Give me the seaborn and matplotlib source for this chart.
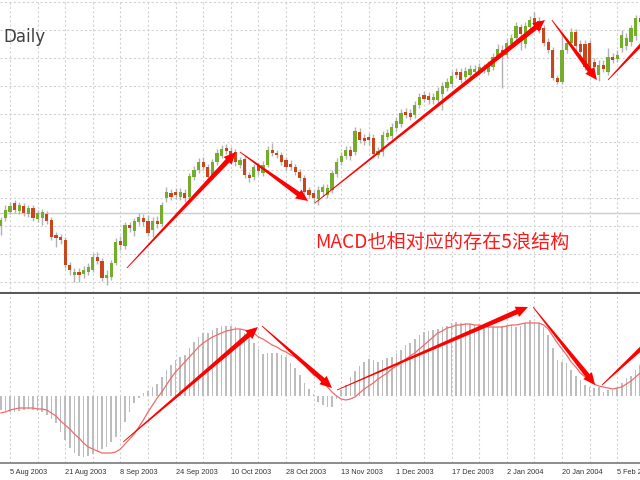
import numpy as np
import pandas as pd
import matplotlib
matplotlib.use("Agg")
import matplotlib.pyplot as plt
from matplotlib.patches import Polygon
import seaborn as sns

sns.set_style("white")
plt.rcParams["font.family"] = ["DejaVu Sans"]

# ---- daily bars, 1 Aug 2003 .. 6 Feb 2004 ----
dates = pd.bdate_range("2003-08-01", periods=140)

open_ = [1.1870, 1.1910, 1.1940, 1.1985, 1.1945, 1.1970, 1.1930, 1.1960, 1.1905, 1.1910, 1.1930, 1.1900,
         1.1825, 1.1815, 1.1800, 1.1675, 1.1625, 1.1640, 1.1630, 1.1640, 1.1650, 1.1715,
         1.1695, 1.1610, 1.1615, 1.1685, 1.1795, 1.1770, 1.1875, 1.1845, 1.1890, 1.1910,
         1.1895, 1.1850, 1.1895, 1.1880, 1.2010, 1.2035, 1.2040, 1.2015, 1.2035, 1.2015,
         1.2115, 1.2150, 1.2190, 1.2165, 1.2120, 1.2190, 1.2220, 1.2260, 1.2245, 1.2240,
         1.2175, 1.2205, 1.2125, 1.2115, 1.2170, 1.2135, 1.2175, 1.2250, 1.2235, 1.2225,
         1.2200, 1.2180, 1.2165, 1.2140, 1.2110, 1.2050, 1.2035, 1.2005, 1.2040, 1.2025,
         1.2050, 1.2130, 1.2190, 1.2220, 1.2250, 1.2240, 1.2340, 1.2310, 1.2315, 1.2310,
         1.2225, 1.2240, 1.2315, 1.2320, 1.2360, 1.2380, 1.2440, 1.2435, 1.2425, 1.2475,
         1.2525, 1.2520, 1.2500, 1.2500, 1.2530, 1.2560, 1.2580, 1.2640, 1.2640, 1.2615,
         1.2625, 1.2640, 1.2640, 1.2650, 1.2640, 1.2665, 1.2720, 1.2750, 1.2725, 1.2780,
         1.2810, 1.2865, 1.2780, 1.2865, 1.2910, 1.2895, 1.2860, 1.2790, 1.2750, 1.2610,
         1.2590, 1.2750, 1.2785, 1.2840, 1.2780, 1.2780, 1.2785, 1.2690, 1.2625, 1.2675,
         1.2640, 1.2715, 1.2705, 1.2760, 1.2770, 1.2790, 1.2820, 1.2910]

close = [1.1900, 1.1950, 1.1970, 1.1950, 1.1975, 1.1935, 1.1960, 1.1910, 1.1935, 1.1940, 1.1895, 1.1815,
         1.1810, 1.1800, 1.1675, 1.1650, 1.1640, 1.1625, 1.1650, 1.1665, 1.1715, 1.1695,
         1.1610, 1.1625, 1.1685, 1.1790, 1.1775, 1.1875, 1.1860, 1.1895, 1.1915, 1.1890,
         1.1835, 1.1895, 1.1880, 1.1975, 1.2040, 1.2015, 1.2025, 1.2040, 1.2010, 1.2120,
         1.2150, 1.2190, 1.2165, 1.2115, 1.2190, 1.2235, 1.2255, 1.2245, 1.2215, 1.2190,
         1.2200, 1.2125, 1.2110, 1.2165, 1.2145, 1.2175, 1.2250, 1.2235, 1.2225, 1.2190,
         1.2165, 1.2165, 1.2140, 1.2110, 1.2040, 1.2025, 1.2010, 1.2050, 1.2065, 1.2060,
         1.2135, 1.2190, 1.2220, 1.2250, 1.2220, 1.2345, 1.2300, 1.2295, 1.2300, 1.2230,
         1.2245, 1.2325, 1.2335, 1.2365, 1.2395, 1.2435, 1.2425, 1.2415, 1.2475, 1.2515,
         1.2505, 1.2500, 1.2515, 1.2545, 1.2570, 1.2590, 1.2620, 1.2625, 1.2600, 1.2645,
         1.2655, 1.2655, 1.2665, 1.2660, 1.2675, 1.2715, 1.2755, 1.2735, 1.2785, 1.2810,
         1.2870, 1.2830, 1.2870, 1.2900, 1.2875, 1.2850, 1.2785, 1.2750, 1.2610, 1.2590,
         1.2750, 1.2785, 1.2840, 1.2770, 1.2740, 1.2665, 1.2650, 1.2665, 1.2675, 1.2655,
         1.2715, 1.2700, 1.2725, 1.2825, 1.2810, 1.2860, 1.2910, 1.2890]

high = [1.1915, 1.1975, 1.1990, 1.2000, 1.1990, 1.1985, 1.1975, 1.1975, 1.1950, 1.1955, 1.1945, 1.1915,
        1.1840, 1.1830, 1.1815, 1.1690, 1.1660, 1.1660, 1.1670, 1.1685, 1.1735, 1.1740,
        1.1710, 1.1650, 1.1700, 1.1810, 1.1820, 1.1890, 1.1890, 1.1910, 1.1935, 1.1930,
        1.1925, 1.1915, 1.1920, 1.1990, 1.2065, 1.2055, 1.2060, 1.2060, 1.2055, 1.2135,
        1.2170, 1.2210, 1.2215, 1.2180, 1.2205, 1.2255, 1.2275, 1.2280, 1.2265, 1.2255,
        1.2215, 1.2220, 1.2140, 1.2180, 1.2185, 1.2195, 1.2270, 1.2285, 1.2250, 1.2240,
        1.2215, 1.2200, 1.2180, 1.2155, 1.2125, 1.2065, 1.2050, 1.2070, 1.2080, 1.2080,
        1.2150, 1.2210, 1.2240, 1.2270, 1.2270, 1.2365, 1.2360, 1.2330, 1.2335, 1.2330,
        1.2265, 1.2345, 1.2355, 1.2385, 1.2415, 1.2455, 1.2460, 1.2455, 1.2495, 1.2535,
        1.2545, 1.2540, 1.2535, 1.2565, 1.2590, 1.2610, 1.2645, 1.2660, 1.2660, 1.2665,
        1.2675, 1.2675, 1.2685, 1.2680, 1.2695, 1.2735, 1.2780, 1.2775, 1.2805, 1.2830,
        1.2890, 1.2880, 1.2890, 1.2920, 1.2940, 1.2915, 1.2875, 1.2810, 1.2765, 1.2625,
        1.2840, 1.2810, 1.2860, 1.2855, 1.2800, 1.2800, 1.2800, 1.2710, 1.2700, 1.2700,
        1.2760, 1.2735, 1.2750, 1.2850, 1.2835, 1.2875, 1.2925, 1.2925]

low = [1.1825, 1.1895, 1.1930, 1.1935, 1.1930, 1.1920, 1.1915, 1.1895, 1.1890, 1.1875, 1.1880, 1.1800,
       1.1765, 1.1780, 1.1660, 1.1625, 1.1590, 1.1590, 1.1610, 1.1625, 1.1640, 1.1680,
       1.1595, 1.1575, 1.1600, 1.1675, 1.1750, 1.1755, 1.1840, 1.1820, 1.1875, 1.1870,
       1.1820, 1.1815, 1.1860, 1.1870, 1.1990, 1.2000, 1.2005, 1.2000, 1.1990, 1.2005,
       1.2100, 1.2135, 1.2150, 1.2095, 1.2105, 1.2175, 1.2210, 1.2230, 1.2200, 1.2170,
       1.2160, 1.2110, 1.2090, 1.2100, 1.2125, 1.2120, 1.2165, 1.2220, 1.2210, 1.2175,
       1.2150, 1.2150, 1.2125, 1.2095, 1.2025, 1.2010, 1.1985, 1.1975, 1.2020, 1.2010,
       1.2035, 1.2115, 1.2175, 1.2205, 1.2200, 1.2225, 1.2285, 1.2275, 1.2275, 1.2210,
       1.2210, 1.2220, 1.2300, 1.2305, 1.2345, 1.2365, 1.2410, 1.2400, 1.2410, 1.2460,
       1.2490, 1.2480, 1.2480, 1.2485, 1.2450, 1.2545, 1.2565, 1.2610, 1.2585, 1.2600,
       1.2610, 1.2625, 1.2625, 1.2635, 1.2625, 1.2650, 1.2710, 1.2560, 1.2710, 1.2765,
       1.2795, 1.2750, 1.2760, 1.2850, 1.2860, 1.2835, 1.2770, 1.2735, 1.2600, 1.2580,
       1.2580, 1.2735, 1.2770, 1.2750, 1.2720, 1.2650, 1.2635, 1.2615, 1.2595, 1.2640,
       1.2625, 1.2685, 1.2690, 1.2740, 1.2750, 1.2770, 1.2800, 1.2875]

# ---- MACD (12,26,9): main histogram and signal line ----
macd_main = [-0.0014, -0.0015, -0.0016, -0.0016, -0.0015, -0.0014, -0.0013, -0.0014, -0.0015, -0.0016, -0.0019, -0.0023,
             -0.0027, -0.0036, -0.0044, -0.0052, -0.0057, -0.0060, -0.0061, -0.0060, -0.0058, -0.0056,
             -0.0053, -0.0051, -0.0046, -0.0041, -0.0034, -0.0026, -0.0016, -0.0007, -0.0002, 0.0003,
             0.0005, 0.0009, 0.0012, 0.0019, 0.0026, 0.0031, 0.0036, 0.0039, 0.0041, 0.0048,
             0.0054, 0.0059, 0.0063, 0.0063, 0.0066, 0.0068, 0.0070, 0.0070, 0.0070, 0.0069,
             0.0067, 0.0063, 0.0059, 0.0053, 0.0047, 0.0042, 0.0043, 0.0043, 0.0043, 0.0041,
             0.0039, 0.0033, 0.0028, 0.0021, 0.0013, 0.0007, 0.0002, -0.0006, -0.0009, -0.0011,
             -0.0011, -0.0003, 0.0006, 0.0011, 0.0019, 0.0025, 0.0030, 0.0034, 0.0037, 0.0036,
             0.0034, 0.0036, 0.0038, 0.0039, 0.0043, 0.0046, 0.0051, 0.0053, 0.0057, 0.0061,
             0.0064, 0.0065, 0.0066, 0.0067, 0.0069, 0.0070, 0.0073, 0.0074, 0.0073, 0.0073,
             0.0072, 0.0071, 0.0071, 0.0070, 0.0070, 0.0069, 0.0069, 0.0070, 0.0071, 0.0071,
             0.0069, 0.0070, 0.0073, 0.0076, 0.0074, 0.0073, 0.0069, 0.0061, 0.0048, 0.0036,
             0.0034, 0.0033, 0.0026, 0.0020, 0.0016, 0.0011, 0.0009, 0.0008, 0.0009, 0.0004,
             0.0006, 0.0006, 0.0008, 0.0013, 0.0018, 0.0020, 0.0026, 0.0031]

macd_signal = [-0.0017, -0.0016, -0.0014, -0.0013, -0.0012, -0.0012, -0.0012, -0.0012, -0.0013, -0.0013, -0.0014, -0.0017,
               -0.0020, -0.0025, -0.0029, -0.0033, -0.0038, -0.0042, -0.0047, -0.0051, -0.0053, -0.0055,
               -0.0057, -0.0057, -0.0057, -0.0056, -0.0053, -0.0048, -0.0043, -0.0038, -0.0031, -0.0024,
               -0.0016, -0.0009, -0.0002, 0.0004, 0.0011, 0.0018, 0.0024, 0.0029, 0.0034, 0.0039,
               0.0044, 0.0049, 0.0053, 0.0056, 0.0059, 0.0061, 0.0063, 0.0065, 0.0066, 0.0067,
               0.0067, 0.0066, 0.0065, 0.0063, 0.0059, 0.0057, 0.0054, 0.0051, 0.0049, 0.0046,
               0.0044, 0.0041, 0.0039, 0.0035, 0.0031, 0.0026, 0.0021, 0.0019, 0.0014, 0.0009,
               0.0004, 0.0000, -0.0003, -0.0004, -0.0003, -0.0001, 0.0003, 0.0007, 0.0010, 0.0013,
               0.0017, 0.0020, 0.0023, 0.0027, 0.0030, 0.0033, 0.0037, 0.0040, 0.0043, 0.0047,
               0.0051, 0.0055, 0.0059, 0.0063, 0.0065, 0.0068, 0.0069, 0.0071, 0.0071, 0.0072,
               0.0072, 0.0071, 0.0071, 0.0070, 0.0069, 0.0069, 0.0069, 0.0069, 0.0070, 0.0071,
               0.0071, 0.0072, 0.0073, 0.0073, 0.0073, 0.0073, 0.0071, 0.0067, 0.0060, 0.0053,
               0.0047, 0.0041, 0.0034, 0.0029, 0.0023, 0.0019, 0.0015, 0.0012, 0.0010, 0.0009,
               0.0008, 0.0007, 0.0008, 0.0009, 0.0012, 0.0015, 0.0019, 0.0023]

# wave annotations: (bar index, value) pairs, start -> arrow tip
price_waves = [((27.4, 1.1660), (51.1, 1.2240)),
               ((52.0, 1.2240), (66.8, 1.1995)),
               ((68.3, 1.1985), (118.3, 1.2900)),
               ((119.8, 1.2900), (129.6, 1.2600)),
               ((132.0, 1.2600), (145.5, 1.2930))]
macd_waves = [((26.6, -0.0046), (55.9, 0.0069)),
              ((56.8, 0.0070), (72.0, 0.0008)),
              ((73.1, 0.0006), (114.6, 0.0089)),
              ((115.7, 0.0089), (129.2, 0.0011)),
              ((130.7, 0.0011), (143.3, 0.0065))]

note_text = "MACD也相对应的存在5浪结构"
period_text = "Daily"

# ---------------------------------------------------------------
idx = np.arange(len(dates))
o = np.array(open_); c = np.array(close); h = np.array(high); l = np.array(low)

W, H = 640, 480
fig = plt.figure(figsize=(W / 100, H / 100), dpi=100)
ax1 = fig.add_axes([0, 1 - 293 / H, 1, 293 / H])
ax2 = fig.add_axes([0, (H - 463) / H, 1, (463 - 294) / H])

XLIM = (-0.17, 138.96)
grid_kw = dict(color="#d2d2d2", linestyle=(0, (2, 2)), linewidth=0.8)
label_idx = np.arange(2, len(dates), 12)
grid_idx = np.arange(2, len(dates), 6)

for ax in (ax1, ax2):
    ax.set_xlim(*XLIM)
    ax.set_axisbelow(True)
    ax.set_xticks(label_idx)
    ax.set_xticks(grid_idx, minor=True)
    ax.grid(True, which="both", axis="x", **grid_kw)
    for s in ("top", "left", "right"):
        ax.spines[s].set_visible(False)
ax2.set_yticks([])

# ---- price panel ----
ax1.set_ylim(1.1535, 1.3000)
ax1.set_yticks(1.29915 - 0.014 * np.arange(11))
ax1.grid(True, which="major", axis="y", **grid_kw)
ax1.tick_params(axis="both", which="both", length=0, labelbottom=False, labelleft=False)
ax1.axhline(1.1935, color="#cdcdcd", lw=1.0, zorder=0.6)
ax1.spines["bottom"].set_color("#5a5a5a")
ax1.spines["bottom"].set_linewidth(2.2)

up = c >= o
body_lo = np.minimum(o, c)
body_h = np.maximum(np.abs(c - o), 0.0008)
ax1.vlines(idx, l, h, color="#b2b2b2", lw=1.0, zorder=2)
ax1.bar(idx, body_h, bottom=body_lo, width=0.66,
        color=np.where(up, "#74ad2c", "#c9461c"), linewidth=0, zorder=3)

# ---- MACD panel ----
ax2.set_ylim(-0.0067, 0.0102)
sns.barplot(x=idx, y=macd_main, native_scale=True, ax=ax2, color="#bdbdbd",
            width=0.32, saturation=1, errorbar=None, linewidth=0, zorder=2)
sns.lineplot(x=idx, y=macd_signal, ax=ax2, color="#f26a6a", linewidth=0.9, zorder=3)
ax2.set_xlim(*XLIM)
ax2.set_xlabel(""); ax2.set_ylabel("")
ax2.spines["bottom"].set_color("#8c8c8c")
ax2.spines["bottom"].set_linewidth(1.4)
ax2.set_xticks(label_idx)
ax2.set_xticklabels([f"{d.day} {d.strftime('%b %Y')}" for d in dates[label_idx]],
                    fontsize=5.3, color="#333333", family=["Liberation Sans", "DejaVu Sans"])
for t in ax2.get_xticklabels():
    t.set_horizontalalignment("left")
ax2.tick_params(axis="x", which="major", length=3, width=0.8, color="#808080", pad=1.5)
ax2.tick_params(axis="x", which="minor", length=0)
ax2.tick_params(axis="y", length=0, labelleft=False)


def taper_arrow(ax, start, end, w0=0.8, w1=5.0, head_w=11.0, head_l=12.0, color="#ff0000"):
    """Red arrow that widens from a thin tail to a solid head (sizes in pixels)."""
    p0 = ax.transData.transform(start)
    p1 = ax.transData.transform(end)
    d = p1 - p0
    u = d / np.hypot(*d)
    n = np.array([-u[1], u[0]])
    neck = p1 - u * head_l
    pts = [p0 + n * w0 / 2, neck + n * w1 / 2, neck + n * head_w / 2, p1,
           neck - n * head_w / 2, neck - n * w1 / 2, p0 - n * w0 / 2]
    ax.add_patch(Polygon(ax.transData.inverted().transform(pts), closed=True,
                         facecolor=color, edgecolor="none", zorder=6))


for s, e in price_waves:
    taper_arrow(ax1, s, e)
for s, e in macd_waves:
    taper_arrow(ax2, s, e)

fig.text(3 / W, 1 - 42 / H, period_text, fontsize=12, color="#404040", va="baseline", ha="left")
fig.text(315 / W, 1 - 242 / H, note_text, fontsize=13.8, color="#ff1a1a", va="center", ha="left",
         family=["Noto Sans CJK SC", "DejaVu Sans"])

fig.savefig("out.png", dpi=100, facecolor="white")
